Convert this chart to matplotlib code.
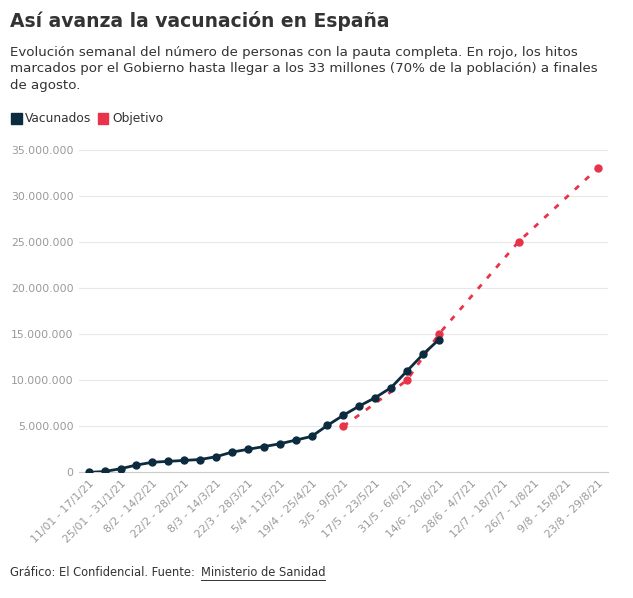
import matplotlib.pyplot as plt
from matplotlib.patches import Rectangle

weeks = ["11/01 - 17/1/21", "18/1", "25/01 - 31/1/21", "1/2", "8/2 - 14/2/21", "15/2",
         "22/2 - 28/2/21", "1/3", "8/3 - 14/3/21", "15/3", "22/3 - 28/3/21", "29/3",
         "5/4 - 11/5/21", "12/4", "19/4 - 25/4/21", "26/4", "3/5 - 9/5/21", "10/5",
         "17/5 - 23/5/21", "24/5", "31/5 - 6/6/21", "7/6", "14/6 - 20/6/21", "21/6",
         "28/6 - 4/7/21", "5/7", "12/7 - 18/7/21", "19/7", "26/7 - 1/8/21", "2/8",
         "9/8 - 15/8/21", "16/8", "23/8 - 29/8/21"]
vacunados = [0.0, 0.1, 0.4, 0.8, 1.1, 1.2, 1.3, 1.4, 1.7, 2.2, 2.5, 2.8, 3.1, 3.5,
             3.9, 5.1, 6.2, 7.2, 8.1, 9.2, 11.0, 12.8, 14.4]
objetivo_idx = [16, 20, 22, 27, 32]
objetivo = [5.0, 10.0, 15.0, 25.0, 33.0]

navy = "#0d2b3e"
red = "#e8334a"

fig = plt.figure(figsize=(6.33, 5.98), dpi=100)
ax = fig.add_axes([0.125, 0.21, 0.835, 0.54])

ax.plot(objetivo_idx, [v * 1e6 for v in objetivo], color=red, lw=2, ls=(0, (2, 3)),
        marker="o", ms=5, zorder=2)
ax.plot(range(len(vacunados)), [v * 1e6 for v in vacunados], color=navy, lw=2,
        marker="o", ms=5, zorder=3)

ax.set_ylim(0, 35e6)
ax.set_xlim(-0.6, 32.6)
yt = [i * 5e6 for i in range(8)]
ax.set_yticks(yt)
ax.set_yticklabels([f"{int(v):,}".replace(",", ".") for v in yt], color="#999999", fontsize=7.8)
ax.set_xticks(range(0, 33, 2))
ax.set_xticklabels(weeks[::2], rotation=45, ha="right", rotation_mode="anchor",
                   color="#999999", fontsize=7.8)
ax.tick_params(length=0, pad=4)
ax.grid(axis="y", color="#e8e8e8", lw=0.8)
for s in ["top", "right", "left"]:
    ax.spines[s].set_visible(False)
ax.spines["bottom"].set_color("#cccccc")

fig.text(0.016, 0.965, "Así avanza la vacunación en España", fontsize=13.5,
         fontweight="bold", color="#333333", va="center")
fig.text(0.016, 0.885, "Evolución semanal del número de personas con la pauta completa. En rojo, los hitos\n"
         "marcados por el Gobierno hasta llegar a los 33 millones (70% de la población) a finales\n"
         "de agosto.", fontsize=9.6, color="#333333", va="center", linespacing=1.35)
fig.patches.append(Rectangle((0.018, 0.793), 0.016, 0.018, color=navy, transform=fig.transFigure))
fig.text(0.04, 0.802, "Vacunados", fontsize=8.8, color="#333333", va="center")
fig.patches.append(Rectangle((0.155, 0.793), 0.016, 0.018, color=red, transform=fig.transFigure))
fig.text(0.177, 0.802, "Objetivo", fontsize=8.8, color="#333333", va="center")
fig.text(0.016, 0.042, "Gráfico: El Confidencial. Fuente:", fontsize=8.3, color="#333333", va="center")
fig.text(0.318, 0.042, "Ministerio de Sanidad", fontsize=8.3, color="#333333", va="center")
fig.add_artist(plt.Line2D([0.318, 0.514], [0.03, 0.03], color="#333333", lw=0.7))

fig.savefig("out.png", dpi=100)
